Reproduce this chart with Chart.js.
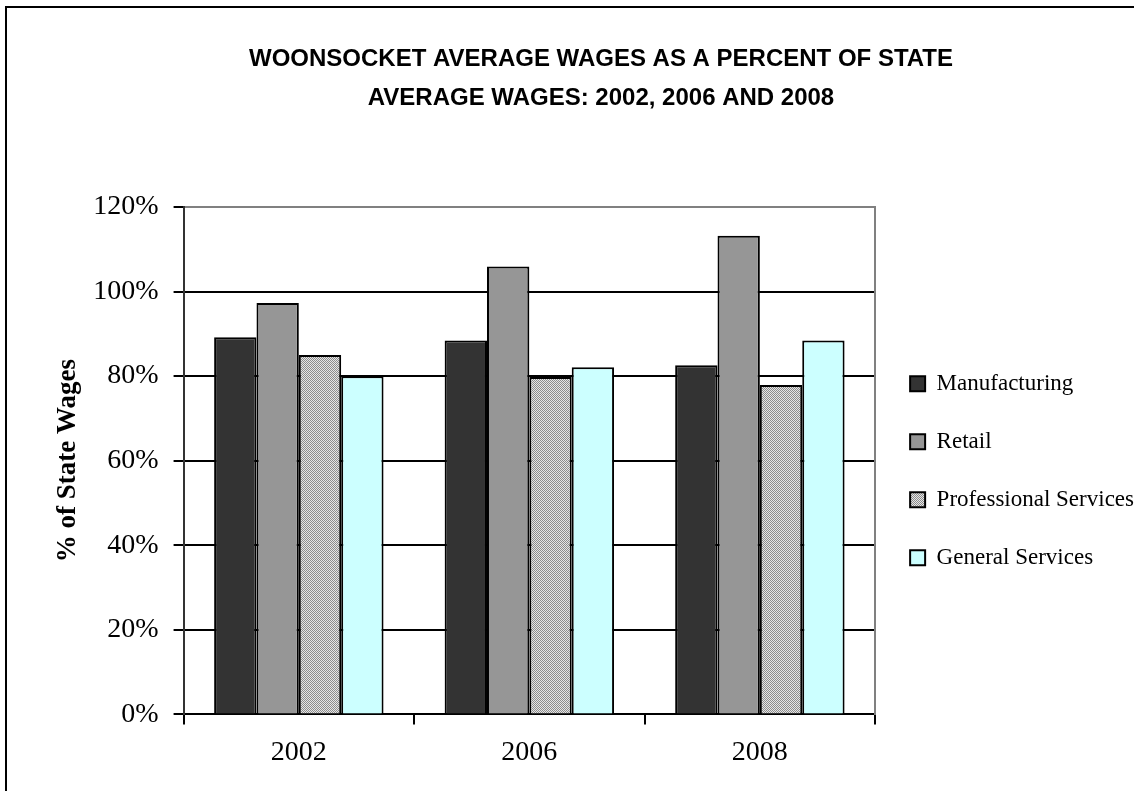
<!DOCTYPE html>
<html>
<head>
<meta charset="utf-8">
<script src="https://cdn.jsdelivr.net/npm/chart.js@4"></script>
<style>
  html, body { margin: 0; padding: 0; background: #fff; overflow: hidden; }
  #wrap { position: absolute; left: 0; top: 0; width: 1206px; height: 791px; }
  #frame { position: absolute; left: 5px; top: 6px; width: 1300px; height: 1000px;
           border: 2px solid #000; pointer-events: none; }
</style>
</head>
<body>
<div id="wrap"><canvas id="wages"></canvas></div>
<div id="frame"></div>
<script>
/* ── Data ── */
const years = ['2002', '2006', '2008'];
const manufacturing = [89.2, 88.4, 82.6];
const retail = [97.3, 105.9, 113.2];
const professional = [85.0, 79.8, 77.9];
const general = [80.0, 82.1, 88.4];
const yTicks = [0, 20, 40, 60, 80, 100, 120];

/* ── Dotted fill for Professional Services ── */
function makeDither() {
  const c = document.createElement('canvas');
  c.width = 2; c.height = 2;
  const g = c.getContext('2d');
  g.fillStyle = '#e6e6e6'; g.fillRect(0, 0, 2, 2);
  g.fillStyle = '#8c8c8c'; g.fillRect(0, 0, 1, 1); g.fillRect(1, 1, 1, 1);
  return g.createPattern(c, 'repeat');
}
const dither = makeDither();

const serif = 'Liberation Serif';

function bar(label, data, fill) {
  return {
    label, data,
    backgroundColor: fill,
    borderColor: '#000',
    borderWidth: 2,
    categoryPercentage: 0.735,
    barPercentage: 1
  };
}

new Chart(document.getElementById('wages'), {
  type: 'bar',
  data: {
    labels: years,
    datasets: [
      bar('Manufacturing', manufacturing, '#333333'),
      bar('Retail', retail, '#969696'),
      bar('Professional Services', professional, dither),
      bar('General Services', general, '#ccffff')
    ]
  },
  options: {
    responsive: true,
    maintainAspectRatio: false,
    animation: false,
    layout: { padding: { left: 58, right: 62, top: 0, bottom: 11 } },
    plugins: {
      title: {
        display: true,
        text: ['WOONSOCKET AVERAGE WAGES AS A PERCENT OF STATE', 'AVERAGE WAGES: 2002, 2006 AND 2008'],
        color: '#000',
        font: { family: 'Liberation Sans', size: 24, weight: 'bold', lineHeight: 1.625 },
        padding: { top: 40, bottom: 89 }
      },
      legend: {
        position: 'right',
        fullSize: false,
        maxWidth: 320,
        // empty title only pushes the items down a little
        title: { display: true, text: '', padding: 0, font: { size: 20, lineHeight: 1 } },
        labels: {
          color: '#000',
          font: { family: serif, size: 23 },
          boxWidth: 15,
          boxHeight: 15,
          padding: 35
        }
      },
      tooltip: { enabled: false }
    },
    scales: {
      x: {
        grid: { offset: true, drawOnChartArea: false, drawTicks: true, tickLength: 10, color: '#000', lineWidth: 2 },
        border: { display: true, color: '#000', width: 2 },
        ticks: { color: '#000', padding: 11, font: { family: serif, size: 28 } }
      },
      y: {
        min: 0,
        max: 120,
        afterBuildTicks: axis => { axis.ticks = yTicks.map(v => ({ value: v })); },
        grid: {
          color: ctx => ctx.tick.value === 120 ? '#808080' : (ctx.tick.value === 0 ? 'rgba(0,0,0,0)' : '#000'),
          tickColor: '#000',
          lineWidth: 2,
          tickLength: 10
        },
        border: { display: true, color: '#333', width: 2 },
        ticks: { color: '#000', padding: 15, font: { family: serif, size: 28 }, callback: v => v + '%' },
        title: {
          display: true,
          text: '% of State Wages',
          color: '#000',
          font: { family: serif, size: 27, weight: 'bold', lineHeight: 0.75 },
          padding: { top: 0, bottom: 0 }
        }
      },
      y2: {
        position: 'right',
        min: 0,
        max: 120,
        grid: { display: false, drawTicks: false },
        ticks: { display: false },
        border: { display: true, color: '#808080', width: 2 }
      }
    }
  }
});
</script>
</body>
</html>
